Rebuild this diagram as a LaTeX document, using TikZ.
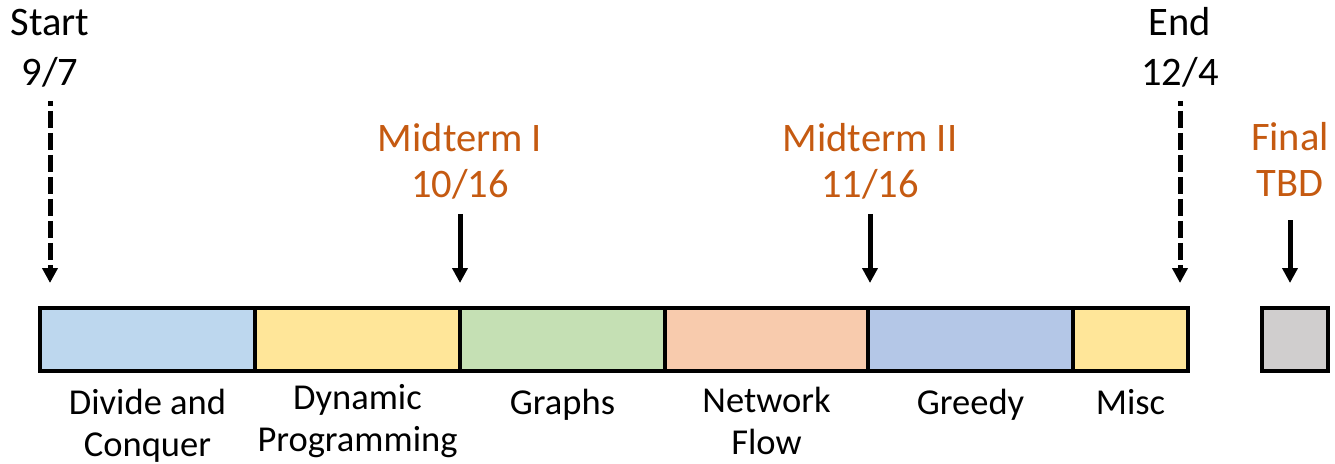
\documentclass[tikz,border=0pt]{standalone}
\usepackage{fontspec}
\setmainfont{Carlito}
\usepackage{tikz}
\usetikzlibrary{positioning,arrows.meta}
\definecolor{dcblue}{HTML}{BDD7EE}
\definecolor{dpyellow}{HTML}{FFE699}
\definecolor{grgreen}{HTML}{C5E0B4}
\definecolor{nforange}{HTML}{F8CBAD}
\definecolor{gdblue}{HTML}{B4C7E7}
\definecolor{fingray}{HTML}{D0CECE}
\definecolor{examorange}{HTML}{C55A11}
\tikzstyle{topic} = [draw, line width=4.5pt, minimum height=63pt, inner sep=0pt, outer sep=0pt]
\tikzstyle{date} = [align=center, inner sep=0pt, anchor=base, font=\fontsize{40.5}{46}\selectfont]
\tikzstyle{exam} = [date, text=examorange]
\tikzstyle{caption} = [align=center, inner sep=0pt, font=\fontsize{36.5}{42}\selectfont]
\tikzstyle{pointer} = [line width=5pt, -{Triangle[length=15pt,width=15pt]}]
\tikzstyle{dashpointer} = [pointer, dash pattern=on 17pt off 5pt, dash phase=12pt]

\begin{document}
\begin{tikzpicture}[x=1pt, y=-1pt]
			\useasboundingbox (0,0) rectangle (1335,463);
			% topics, left to right
			\node[topic, fill=dcblue, minimum width=215pt, anchor=north west] (dc) at (40,308) {};
			\node[topic, fill=dpyellow, minimum width=205pt, right = 0pt of dc] (dp) {};
			\node[topic, fill=grgreen, minimum width=205pt, right = 0pt of dp] (gr) {};
			\node[topic, fill=nforange, minimum width=203pt, right = 0pt of gr] (nf) {};
			\node[topic, fill=gdblue, minimum width=205pt, right = 0pt of nf] (gd) {};
			\node[topic, fill=dpyellow, minimum width=115pt, right = 0pt of gd] (misc) {};
			\node[topic, fill=fingray, minimum width=66pt, anchor=north west] (fin) at (1262,308) {};
			\node[caption, below = 14pt of dc] {\strut Divide and\\Conquer};
			\node[caption, below = 9pt of dp] {\strut Dynamic\\Programming};
			\node[caption, below = 14pt of gr] {\strut Graphs};
			\node[caption, below = 12pt of nf] {\strut Network\\Flow};
			\node[caption, below = 14pt of gd] {\strut Greedy};
			\node[caption, below = 14pt of misc] {\strut Misc};
			% dates (anchored on the last line)
			\node[date] (start) at (50,85) {Start\\[4pt]9/7};
			\node[date] (end) at (1180,85) {End\\[4pt]12/4};
			\node[exam] (mid1) at (460,197) {Midterm I\\10/16};
			\node[exam] (mid2) at (870,197) {Midterm II\\11/16};
			\node[exam] (final) at (1290,196) {Final\\TBD};
			\coordinate (tstart) at (50,283);
			\coordinate (tend) at (1180,283);
			\coordinate (tmid1) at (460,283);
			\coordinate (tmid2) at (870,283);
			\coordinate (tfinal) at (1290,283);
			\draw[dashpointer, shorten <=14pt] (start) -- (tstart);
			\draw[dashpointer, shorten <=14pt] (end) -- (tend);
			\draw[pointer, shorten <=15pt] (mid1) -- (tmid1);
			\draw[pointer, shorten <=15pt] (mid2) -- (tmid2);
			\draw[pointer, shorten <=24pt] (final) -- (tfinal);
\end{tikzpicture}
\end{document}
